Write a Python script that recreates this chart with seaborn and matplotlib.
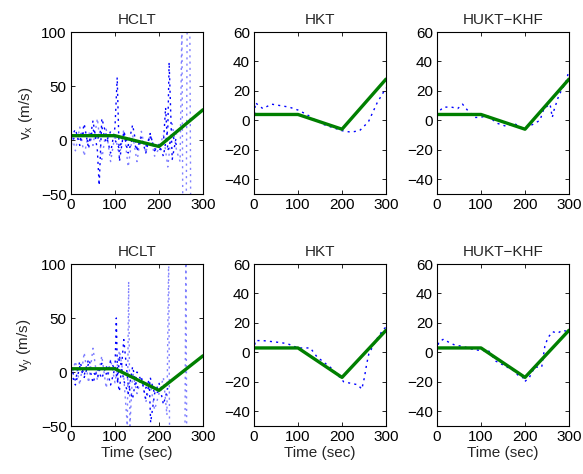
import matplotlib
matplotlib.use("Agg")
import matplotlib.pyplot as plt
import pandas as pd
import seaborn as sns

# true velocity (piecewise linear)
t_true = [0, 100, 200, 300]
vx_true = [4, 4, -6, 28]
vy_true = [3, 3, -17, 15]

# HCLT estimates (noisy runs)
hclt_vx_a_t = [0, 10, 20, 30, 40, 50, 60, 64, 70, 80, 90, 100, 105, 110, 120, 130, 140, 150, 160, 170, 180, 190, 200, 210, 220, 223, 230, 240]
hclt_vx_a = [2, 10, -5, 15, -8, 18, -10, -42, 20, 5, -12, 12, 58, -20, 8, -5, 14, -8, 3, -12, 6, -10, -4, -15, 10, 72, -18, 5]
hclt_vx_b_t = [0, 10, 20, 30, 40, 50, 60, 70, 80, 90, 100, 110, 120, 130, 140, 150, 160, 170, 180, 190, 200, 210, 220, 230, 240, 248, 252, 254, 262, 264, 270, 272, 300]
hclt_vx_b = [8, -10, 12, -15, 8, -5, 20, -18, 10, -20, 5, -15, 10, -25, 5, -20, 8, -12, 5, -15, -8, 5, -25, 15, -10, -20, 110, -60, -60, 110, 110, -60, -60]
hclt_vx_c_t = [0, 10, 20, 30, 40, 50, 60, 70, 80, 90, 100, 110, 120, 130, 140, 150, 160, 170, 180, 190, 200, 210, 215, 220, 230, 240]
hclt_vx_c = [-5, 5, 0, 8, -3, 10, 0, 12, -2, 8, 0, -8, 6, -12, 2, -10, 0, -6, 4, -8, -10, -3, 30, -10, 5, -5]

hclt_vy_a_t = [0, 10, 20, 30, 40, 50, 60, 70, 80, 90, 100, 103, 106, 110, 120, 130, 140, 150, 160, 170, 178, 181, 190, 200, 210, 220]
hclt_vy_a = [5, -8, 10, -3, 12, 0, -5, 8, -2, 10, 2, 50, -10, 15, -8, -20, 5, -15, -5, -25, -10, -47, -20, -10, -30, -15]
hclt_vy_b_t = [0, 10, 20, 30, 40, 50, 60, 70, 80, 90, 100, 110, 120, 128, 131, 134, 140, 150, 160, 170, 180, 190, 200, 210, 218, 222, 224, 259, 261, 263, 300]
hclt_vy_b = [-5, 10, -12, 18, -10, 22, -8, 15, -15, 12, -10, 20, -5, -50, 84, -50, 0, -20, -5, -28, -10, -35, -20, -5, -40, 110, -60, -60, 110, -60, -60]
hclt_vy_c_t = [0, 10, 20, 30, 40, 50, 60, 70, 80, 90, 100, 110, 120, 130, 140, 150, 160, 170, 180, 190, 200, 210]
hclt_vy_c = [0, -12, 5, -5, 8, -10, 3, -6, 6, -12, 4, -18, 30, -12, -25, 0, -8, -15, -5, -20, -18, -12]

# HKT estimates
hkt_vx_t = [0, 3, 20, 40, 60, 80, 100, 120, 140, 160, 180, 200, 220, 240, 260, 280, 300]
hkt_vx = [0, 12, 8, 11, 10, 9, 7, 4, 0, -3, -5, -7, -8, -7, -1, 12, 22]
hkt_vy_t = [0, 3, 20, 50, 75, 100, 128, 143, 160, 177, 204, 220, 236, 245, 251, 256, 261, 270, 281, 295, 300]
hkt_vy = [1, 8, 8, 7, 6, 3, 3, -3, -7, -11, -20, -21, -22, -25, -17, -8, -1, 4, 10, 16, 17]

# HUKT-KHF estimates
hukt_vx_t = [0, 4, 15, 33, 47, 58, 69, 86, 97, 115, 137, 157, 175, 198, 210, 234, 243, 257, 262, 266, 277, 293, 300]
hukt_vx = [-1, 6, 9, 9, 8, 11, 7, 2, 2, 3, -2, -4, -2, -6, -4, 0, 8, 11, 2, 7, 17, 26, 34]
hukt_vy_t = [0, 4, 15, 26, 40, 59, 82, 104, 115, 134, 153, 172, 186, 195, 199, 210, 222, 238, 245, 252, 263, 274, 285, 300]
hukt_vy = [1, 7, 9, 7, 5, 4, 2, 1, 2, -6, -9, -12, -16, -17, -20, -17, -10, -10, 4, 10, 14, 13, 15, 14]

titles = ["HCLT", "HKT", "HUKT\u2212KHF"]

sns.set_style("ticks")
plt.rcParams["font.family"] = ["Liberation Sans", "DejaVu Sans"]
plt.rcParams["mathtext.default"] = "regular"

fig = plt.figure(figsize=(5.83, 4.74), dpi=100)
lefts = [71 / 583, 254 / 583, 437 / 583]
bottoms = [1 - 194 / 474, 1 - 426 / 474]
w, h = 132 / 583, 162 / 474

dark = "#0000ff"
light = "#8080ff"
dot = (0, (1.5, 3))

rows = [
    ("x", vx_true,
     [[(hclt_vx_b_t, hclt_vx_b, light), (hclt_vx_a_t, hclt_vx_a, dark), (hclt_vx_c_t, hclt_vx_c, dark)],
      [(hkt_vx_t, hkt_vx, dark)],
      [(hukt_vx_t, hukt_vx, dark)]]),
    ("y", vy_true,
     [[(hclt_vy_b_t, hclt_vy_b, light), (hclt_vy_a_t, hclt_vy_a, dark), (hclt_vy_c_t, hclt_vy_c, dark)],
      [(hkt_vy_t, hkt_vy, dark)],
      [(hukt_vy_t, hukt_vy, dark)]]),
]

for r, (comp, truth, est) in enumerate(rows):
    for c in range(3):
        ax = fig.add_axes([lefts[c], bottoms[r], w, h])
        for tt, vv, col in est[c]:
            df = pd.DataFrame({"t": tt, "v": vv})
            sns.lineplot(data=df, x="t", y="v", ax=ax, estimator=None, sort=False,
                         color=col, lw=1.0, linestyle=dot)
        df_true = pd.DataFrame({"t": t_true, "v": truth})
        sns.lineplot(data=df_true, x="t", y="v", ax=ax, estimator=None, sort=False,
                     color="#007f00", lw=2.4)
        ax.set_xlim(0, 300)
        ax.set_xticks([0, 100, 200, 300])
        if c == 0:
            ax.set_ylim(-50, 100)
            ax.set_yticks([-50, 0, 50, 100])
            ax.set_ylabel("v$_{%s}$ (m/s)" % comp, fontsize=11, labelpad=4)
        else:
            ax.set_ylim(-50, 60)
            ax.set_yticks([-40, -20, 0, 20, 40, 60])
            ax.set_ylabel("")
        ax.set_yticklabels([str(v).replace("-", "\u2212") for v in ax.get_yticks().astype(int)])
        if r == 1:
            ax.set_xlabel("Time (sec)", fontsize=11, labelpad=1)
        else:
            ax.set_xlabel("")
        ax.set_title(titles[c], fontsize=11, pad=6)
        ax.tick_params(direction="in", length=3, width=0.6, top=True, right=True,
                       labelsize=11, pad=3, colors="black")
        for s in ax.spines.values():
            s.set_visible(True)
            s.set_linewidth(0.8)
            s.set_color("black")

fig.savefig("out.png", dpi=100)
